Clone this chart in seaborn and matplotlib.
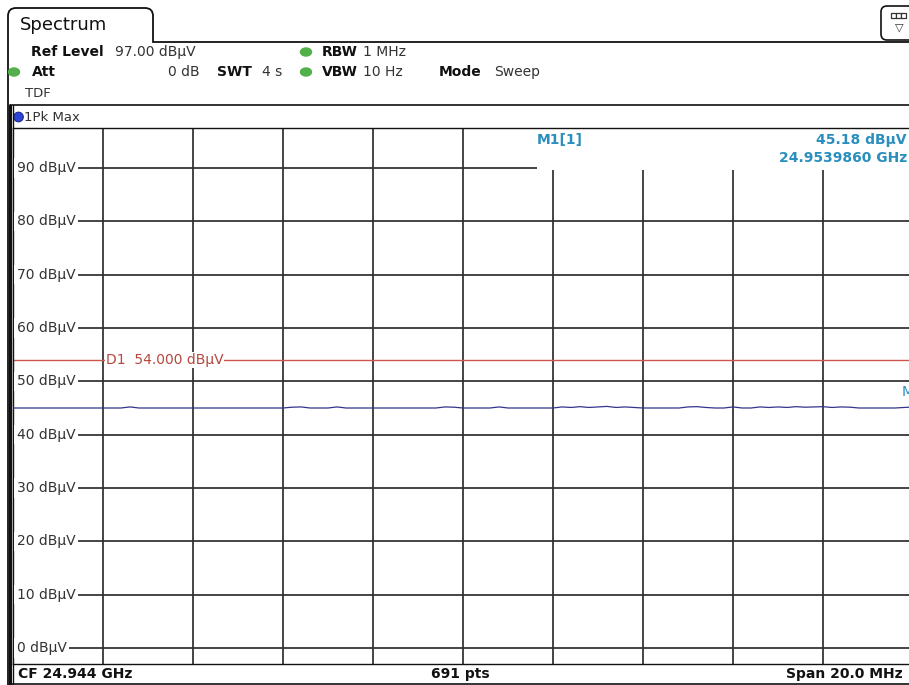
import numpy as np
import matplotlib
matplotlib.use("Agg")
import matplotlib.pyplot as plt
import matplotlib.transforms as mtransforms
from matplotlib.path import Path
from matplotlib.patches import PathPatch, Rectangle, FancyBboxPatch, Ellipse, Circle
import seaborn as sns

sns.set_theme(style="white")
plt.rcParams['font.family'] = ['DejaVu Sans']

# instrument settings
center_ghz = 24.944
span_mhz = 20.0
ref_level = 97.0
bottom_level = -3.0
d1_level = 54.0
marker_freq = 24.9539860
marker_level = 45.18
level_ticks = [0, 10, 20, 30, 40, 50, 60, 70, 80, 90]

# 1Pk Max trace, read every 0.2 MHz across the span (dBuV)
trace_level = [
    45.0, 45.0, 45.0, 45.0, 45.0, 45.0, 45.0, 45.0, 45.0, 45.0,
    45.0, 45.0, 45.0, 45.2, 45.0, 45.0, 45.0, 45.0, 45.0, 45.0,
    45.0, 45.0, 45.0, 45.0, 45.0, 45.0, 45.0, 45.0, 45.0, 45.0,
    45.0, 45.15, 45.2, 45.0, 45.0, 45.0, 45.2, 45.0, 45.0, 45.0,
    45.0, 45.0, 45.0, 45.0, 45.0, 45.0, 45.0, 45.0, 45.2, 45.15,
    45.0, 45.0, 45.0, 45.0, 45.2, 45.0, 45.0, 45.0, 45.0, 45.0,
    45.0, 45.2, 45.1, 45.25, 45.1, 45.2, 45.3, 45.1, 45.2, 45.1,
    45.0, 45.0, 45.0, 45.0, 45.0, 45.2, 45.25, 45.1, 45.0, 45.0,
    45.2, 45.0, 45.0, 45.2, 45.1, 45.2, 45.1, 45.25, 45.15, 45.2,
    45.25, 45.1, 45.2, 45.15, 45.0, 45.0, 45.0, 45.0, 45.0, 45.1,
    45.18,
]

f_start = center_ghz - span_mhz / 2000
f_stop = center_ghz + span_mhz / 2000
freq = np.linspace(f_start, f_stop, len(trace_level))

W, H = 909, 685
fig = plt.figure(figsize=(W / 100, H / 100), dpi=100)


def px_rect(x0, y0, x1, y1):
    return [x0 / W, 1 - y1 / H, (x1 - x0) / W, (y1 - y0) / H]


# overlay in pixel coordinates for the instrument frame
ov = fig.add_axes([0, 0, 1, 1])
ov.set_xlim(0, W)
ov.set_ylim(H, 0)
ov.axis('off')
ov.set_zorder(0)

# main diagram
ax = fig.add_axes(px_rect(13, 128, 913, 664))
ax.set_zorder(1)
ax.set_facecolor('white')

grid_col = '#2e2e2e'
sns.lineplot(x=freq, y=trace_level, ax=ax, color='#34348c', lw=0.9, zorder=3)
ax.axhline(d1_level, color='#cc5550', lw=1.0, zorder=2)

ax.set_xlim(f_start, f_stop)
ax.set_ylim(bottom_level, ref_level + 0.5)
ax.set_xticks(np.linspace(f_start, f_stop, 11))
ax.set_yticks(level_ticks)
ax.set_axisbelow(True)
ax.grid(True, color=grid_col, lw=1.25)
ax.tick_params(length=0, labelbottom=False, labelleft=False)
ax.set_xlabel('')
ax.set_ylabel('')
for s in ax.spines.values():
    s.set_color('#111111')
    s.set_linewidth(1.0)

blend = mtransforms.blended_transform_factory(ax.transAxes, ax.transData)
for v in level_ticks:
    ax.text(0.004, v, f"{v} dBµV", transform=blend, ha='left', va='center',
            fontsize=10, color='#333333', zorder=4,
            bbox=dict(fc='white', ec='none', pad=2.0))

ax.text(0.103, d1_level, "D1  54.000 dBµV", transform=blend, ha='left',
        va='center', fontsize=10, color='#b5483f', zorder=4,
        bbox=dict(fc='white', ec='none', pad=0.6))

# marker info box
ax.add_patch(Rectangle(((537 - 13) / 900, (664 - 170) / 536), 1.0, 0.2,
                       transform=ax.transAxes, fc='white', ec='none', zorder=1.5))
mk_col = '#2a8fbf'
ax.text((537 - 13) / 900, (664 - 140) / 536, "M1[1]", transform=ax.transAxes,
        ha='left', va='center', fontsize=10, color=mk_col, fontweight='bold', zorder=4)
ax.text((907 - 13) / 900, (664 - 140) / 536, "45.18 dBµV", transform=ax.transAxes,
        ha='right', va='center', fontsize=10, color=mk_col, fontweight='bold', zorder=4)
ax.text((907 - 13) / 900, (664 - 158) / 536, "24.9539860 GHz", transform=ax.transAxes,
        ha='right', va='center', fontsize=10, color=mk_col, fontweight='bold', zorder=4)
ax.annotate("M1", xy=(marker_freq, marker_level), xytext=(-7.5, 6),
            textcoords='offset points', ha='left', va='bottom', fontsize=10,
            color=mk_col, zorder=4)

# tab and frame
k = '#111111'
tab = Path([(8, 685), (8, 16), (8, 8), (16, 8), (145, 8), (153, 8), (153, 16),
            (153, 42), (909, 42)],
           [Path.MOVETO, Path.LINETO, Path.CURVE3, Path.CURVE3, Path.LINETO,
            Path.CURVE3, Path.CURVE3, Path.LINETO, Path.LINETO])
ov.add_patch(PathPatch(tab, fc='none', ec=k, lw=1.3))
ov.plot([9.5, 9.5], [105, 685], color=k, lw=2.2)
ov.plot([12.5, 12.5], [105, 685], color=k, lw=1.0)
ov.plot([12, 909], [105, 105], color=k, lw=1.2)
ov.plot([12, 909], [684, 684], color=k, lw=1.2)
ov.text(20, 25, "Spectrum", fontsize=13, color=k, va='center', ha='left')

# top right menu icon
ov.add_patch(FancyBboxPatch((881, 6), 40, 34, boxstyle="round,pad=0,rounding_size=6",
                            fc='white', ec=k, lw=1.2))
for i in range(3):
    ov.add_patch(Rectangle((891 + i * 5, 13), 5, 5, fc='white', ec='#333333', lw=0.9))
ov.text(899, 27, "▽", fontsize=8, color='#333333', ha='center', va='center')

# header settings
dot = '#52b04a'
fs = 10
ov.text(31, 52, "Ref Level", fontsize=fs, fontweight='bold', va='center', color=k)
ov.text(115, 52, "97.00 dBµV", fontsize=fs, va='center', color='#333333')
ov.add_patch(Ellipse((306, 52), 11, 8, color=dot))
ov.text(322, 52, "RBW", fontsize=fs, fontweight='bold', va='center', color=k)
ov.text(363, 52, "1 MHz", fontsize=fs, va='center', color='#333333')

ov.add_patch(Ellipse((14, 72), 11, 8, color=dot))
ov.text(32, 72, "Att", fontsize=fs, fontweight='bold', va='center', color=k)
ov.text(200, 72, "0 dB", fontsize=fs, va='center', ha='right', color='#333333')
ov.text(217, 72, "SWT", fontsize=fs, fontweight='bold', va='center', color=k)
ov.text(262, 72, "4 s", fontsize=fs, va='center', color='#333333')
ov.add_patch(Ellipse((306, 72), 11, 8, color=dot))
ov.text(322, 72, "VBW", fontsize=fs, fontweight='bold', va='center', color=k)
ov.text(363, 72, "10 Hz", fontsize=fs, va='center', color='#333333')
ov.text(439, 72, "Mode", fontsize=fs, fontweight='bold', va='center', color=k)
ov.text(494, 72, "Sweep", fontsize=fs, va='center', color='#333333')
ov.text(25, 93, "TDF", fontsize=fs - 0.5, va='center', color='#333333')

# trace label row
ov.add_patch(Circle((18.5, 117), 4.8, fc='#2d44d8', ec='#1a2a90', lw=0.8))
ov.text(24, 117, "1Pk Max", fontsize=9.5, va='center', color='#333333')

# footer
ov.text(18, 674, "CF 24.944 GHz", fontsize=fs, fontweight='bold', va='center', color=k)
ov.text(460, 674, "691 pts", fontsize=fs, fontweight='bold', va='center', ha='center', color=k)
ov.text(903, 674, "Span 20.0 MHz", fontsize=fs, fontweight='bold', va='center', ha='right', color=k)

fig.savefig("out.png", dpi=100)
